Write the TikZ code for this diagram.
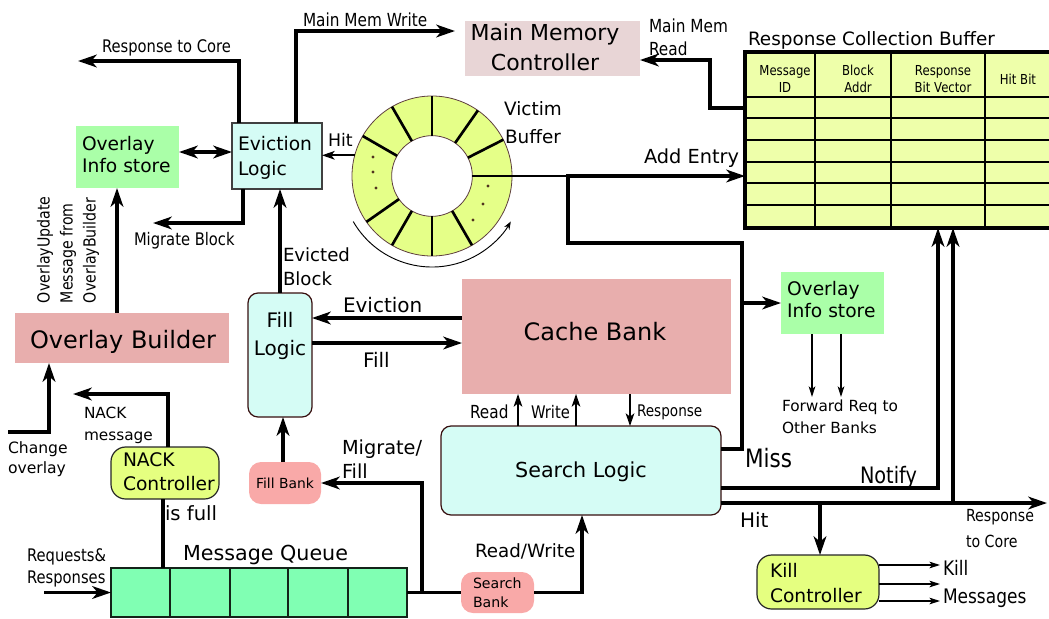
\documentclass[tikz,border=0pt]{standalone}
\usepackage{fontspec}
\setmainfont{DejaVu Sans}
\newfontfamily\condfont[FakeStretch=0.85]{DejaVu Sans}
\usetikzlibrary{arrows.meta,fit}

\definecolor{cyanbox}{RGB}{213,252,245}
\definecolor{greenbox}{RGB}{170,255,168}
\definecolor{pinkbox}{RGB}{232,174,173}
\definecolor{memcol}{RGB}{232,213,214}
\definecolor{bankcol}{RGB}{249,169,168}
\definecolor{limecol}{RGB}{229,255,128}
\definecolor{ringcol}{RGB}{229,255,136}
\definecolor{tablecol}{RGB}{238,255,170}
\definecolor{queuecol}{RGB}{128,255,179}
\definecolor{edgecol}{RGB}{55,15,15}
\definecolor{dotcol}{RGB}{80,50,30}
\definecolor{qedge}{RGB}{20,35,25}

\newcommand\fsz[2]{\fontsize{#1pt}{#2pt}\selectfont}

\begin{document}
\begin{tikzpicture}[x=0.75pt,y=-0.75pt,
  every node/.append style={inner sep=0pt, outer sep=0pt},
  region/.style={fit={#1}, inner sep=0pt, outer sep=0pt},
  lbl/.style={anchor=base west, align=left},
  ctr/.style={anchor=base, align=center},
  bigtip/.style={Stealth[length=14pt,width=9.5pt,inset=4pt]},
  thickline/.style={line width=2.3pt},
  arr/.style={line width=2.3pt, -{Stealth[length=14pt,width=9.5pt,inset=4pt]}},
  arrb/.style={line width=2.3pt, {Stealth[length=14pt,width=9.5pt,inset=4pt]}-{Stealth[length=14pt,width=9.5pt,inset=4pt]}},
  arrm/.style={line width=1.3pt, -{Stealth[length=9.5pt,width=6.5pt,inset=2.5pt]}},
  arrs/.style={line width=0.8pt, -{Stealth[length=8pt,width=5pt,inset=2pt]}},
  cyanframe/.style={fill=cyanbox, draw=edgecol, line width=0.9pt, rounded corners=7.5pt},
  limeframe/.style={fill=limecol, draw=black!85, line width=0.9pt, rounded corners=11pt}]
\useasboundingbox (0,0) rectangle (1049,618);

% ---------- blocks ----------
\node[region={(465,21) (640,76)}, fill=memcol] (mmc) {};
\node[ctr, font=\fsz{16.5}{22.5}] (mmctext) at (545,70) {Main Memory\\Controller};

\node[region={(232,123) (322,189)}, fill=cyanbox, draw=black!75, line width=1pt] (ev) {};
\node[lbl, font=\fsz{14}{18.5}] (evtext) at (238,175) {Eviction\\Logic};

\node[region={(76,126) (179,188)}, fill=greenbox] (oisa) {};
\node[lbl, font=\fsz{14}{16.5}] (oisatext) at (82,172) {Overlay\\Info store};

\node[region={(15,313) (229,363)}, fill=pinkbox] (ob) {};
\node[ctr, font=\fsz{18}{21}] (obtext) at (123,348) {Overlay Builder};

\node[region={(248,293) (312,417)}, cyanframe] (fl) {};
\node[ctr, font=\fsz{15}{21}] (fltext) at (280,355) {Fill\\Logic};

\node[region={(462,279) (731,394)}, fill=pinkbox] (cb) {};
\node[ctr, font=\fsz{18}{21}] (cbtext) at (595,340) {Cache Bank};

\node[region={(441,426) (721,515)}, cyanframe] (sl) {};
\node[ctr, font=\fsz{15.5}{18}] (sltext) at (581,477) {Search Logic};

\node[region={(461,572) (534,613)}, fill=bankcol, rounded corners=9pt] (sbank) {};
\node[lbl, font=\fsz{10.6}{14}] (sbanktext) at (473,607) {Search\\Bank};

\node[region={(249,462) (321,504)}, fill=bankcol, rounded corners=9pt] (fbank) {};
\node[ctr, font=\fsz{10.4}{13}] (fbanktext) at (285,488) {Fill Bank};

\node[region={(111,447) (219,499)}, limeframe] (nack) {};
\node[lbl, font=\fsz{14}{17.6}] (nacktext) at (123,490) {NACK\\Controller};

\node[region={(757,555) (879,609)}, limeframe] (kill) {};
\node[lbl, font=\fsz{14}{18.75}] (killtext) at (770,602) {Kill\\Controller};

\node[region={(781,272) (884,334)}, fill=greenbox] (oisb) {};
\node[lbl, font=\fsz{14}{16.5}] (oisbtext) at (787,317) {Overlay\\Info store};

% message queue cells
\foreach \i/\xa/\xb in {1/111/170,2/170/230,3/230/288,4/288/348,5/348/407}
  \node[region={(\xa,568) (\xb,617)}, fill=queuecol, draw=qedge, line width=1.8pt] (mq\i) {};
\node[lbl, font=\fsz{15.5}{18}] (mqtext) at (183,560) {Message Queue};

% victim buffer ring
\coordinate (ringc) at (432,176);
\node[circle, minimum size=120pt, fill=ringcol, draw=edgecol!80, line width=0.6pt] (ringout) at (ringc) {};
\node[circle, minimum size=60.5pt, fill=white, draw=edgecol!80, line width=0.6pt] (ringin) at (ringc) {};
\foreach \a in {0,27,55,90,120,150,215,240,270,300}
  \draw[line width=2pt] (ringin.\a) -- (ringout.\a);
\foreach \p in {(373,157),(373,172),(376,188),(488,186),(483,204),(473,220)}
  \fill[dotcol] \p circle[radius=1.3pt];
\draw[line width=0.7pt, -{Stealth[length=6pt,width=4.5pt]}] (ringc) ++(210:68.25pt) arc[start angle=210, end angle=330, radius=68.25pt];
\node[ctr, font=\fsz{13.8}{21}] (vbtext) at (533,143) {Victim\\Buffer};

% response collection buffer table
\node[region={(745,52) (1056,228)}, fill=tablecol] (rcb) {};
\foreach \yy in {97,118,140,162,183,205}
  \draw[line width=1pt] (rcb.west |- 0,\yy) -- (1056,\yy);
\foreach \xx in {815,891,985}
  \draw[line width=1pt] (\xx,0 |- rcb.north) -- (\xx,0 |- rcb.south);
\draw[line width=2.3pt] (rcb.north east) -- (rcb.north west) -- (rcb.south west) -- (rcb.south east);
\node[ctr, font=\condfont\fsz{10.3}{12.75}] (hmid) at (785,92) {Message\\ID};
\node[ctr, font=\condfont\fsz{10.3}{12.75}] (hblk) at (858,92) {Block\\Addr};
\node[ctr, font=\condfont\fsz{10.3}{12.75}] (hvec) at (943,92) {Response\\Bit Vector};
\node[ctr, font=\condfont\fsz{10.3}{12.75}] (hhit) at (1018,84) {Hit Bit};
\node[lbl, font=\fsz{13.8}{16}] (rcbtext) at (748,45) {Response Collection Buffer};

% ---------- connectors ----------
\draw[arrb] (oisa.east |- 0,152) -- (ev.west |- 0,152);
\draw[arr] (ev.north -| 239,0) |- (78,61);
\draw[arr, shorten >=7.5pt] (ev.north -| 296,0) |- (mmc.west |- 0,31);
\draw[arr] (ev.south -| 243,0) |- (153,223);
\draw[arr] (fl.north -| 280,0) -- (ev.south -| 280,0);
\draw[arrm] (ringout.165) -- (ev.east |- ringout.165);
\draw[line width=1pt] (ringout.east) -- (568,176);
\draw[arr] (sl.east |- 0,449) -- (742,449) -- (742,243) -- (568,243) -- (568,176) -- (rcb.west |- ringc);
\draw[arr] (742,0 |- oisb.west) -- (oisb.west);
\draw[arrs] (oisb.south -| 812,0) -- (812,397);
\draw[arrs] (oisb.south -| 841,0) -- (841,397);
\draw[arr] (rcb.west |- 0,108) -| (710,60) -- (mmc.east |- 0,60);
\draw[arr] (cb.west |- 0,318) -- (fl.east |- 0,318);
\draw[arr] (fl.east |- 0,343) -- (cb.west |- 0,343);
\draw[arrm] (sl.north -| 518,0) -- (cb.south -| 518,0);
\draw[arrm] (sl.north -| 576,0) -- (cb.south -| 576,0);
\draw[arrm] (cb.south -| 630,0) -- (sl.north -| 630,0);
\draw[arr] (sbank.east) -| (sl.south -| 582,0);
\draw[thickline] (mq5.east) -- (sbank.west);
\draw[arr] (mq5.east -| 422,0) |- (fbank.east);
\draw[arr] (fbank.north -| 283,0) -- (fl.south -| 283,0);
\draw[arr] (ob.north -| 117,0) -- (oisa.south -| 117,0);
\draw[arr] (8,432) -| (ob.south -| 49,0);
\draw[arr] (nack.north -| 168,0) |- (73,394);
\draw[thickline] (mq1.north -| 163,0) -- (nack.south -| 163,0);
\draw[arr] (44,0 |- mq1.west) -- (mq1.west);
\draw[arr] (sl.east |- 0,488) -| (rcb.south -| 938,0);
\draw[arr] (sl.east |- 0,503) -- (1047,503);
\draw[arr] (953,503) -- (rcb.south -| 953,0);
\draw[arr] (820,503) -- (kill.north -| 820,0);
\foreach \yy in {565,584,601}
  \draw[arrs] (kill.east |- 0,\yy) -- (940,\yy);

% ---------- labels ----------
\node[lbl, font=\condfont\fsz{13}{15}] (lrc) at (102,52) {Response to Core};
\node[lbl, font=\condfont\fsz{13.5}{16}] (lmw) at (303,26) {Main Mem Write};
\node[lbl, font=\condfont\fsz{13}{15}] (lmb) at (134,245) {Migrate Block};
\node[lbl, font=\fsz{13}{15}] (lhit) at (328,146) {Hit};
\node[lbl, font=\fsz{13.6}{18}] (leb) at (283,285) {Evicted\\Block};
\node[lbl, font=\fsz{14.5}{17}] (lae) at (644,163) {Add Entry};
\node[lbl, font=\condfont\fsz{13.5}{17}] (lmr) at (649,55) {Main Mem\\Read};
\node[lbl, font=\fsz{15}{17}] (lev) at (343,312) {Eviction};
\node[lbl, font=\fsz{15}{17}] (lfill) at (363,367) {Fill};
\node[lbl, font=\condfont\fsz{13.5}{16}] (lread) at (470,418) {Read};
\node[lbl, font=\condfont\fsz{13}{16}] (lwrite) at (531,418) {Write};
\node[lbl, font=\condfont\fsz{12}{14}] (lresp) at (637,416) {Response};
\node[lbl, font=\fsz{13.7}{16}] (lrw) at (475,557) {Read/Write};
\node[lbl, font=\fsz{14.5}{18}] (lmf) at (342,478) {Migrate/\\Fill};
\node[lbl, font=\fsz{11.5}{16.5}] (lnm) at (84,440) {NACK\\message};
\node[lbl, font=\fsz{11.7}{15}] (lco) at (8,473) {Change\\overlay};
\node[lbl, font=\fsz{14.7}{17}] (lif) at (165,520) {is full};
\node[lbl, font=\condfont\fsz{13}{16}] (lrr) at (27,583) {Requests\&\\Responses};
\node[lbl, font=\condfont\fsz{19}{22}] (lmiss) at (745,467) {Miss};
\node[lbl, font=\condfont\fsz{17}{20}] (lnot) at (860,483) {Notify};
\node[lbl, font=\fsz{15}{17}] (lhit2) at (740,527) {Hit};
\node[lbl, font=\condfont\fsz{12.5}{19}] (lrc2) at (966,547) {Response\\to Core};
\node[lbl, font=\condfont\fsz{15}{17}] (lkill) at (943,575) {Kill};
\node[lbl, font=\condfont\fsz{15}{17}] (lmsg) at (943,603) {Messages};
\node[lbl, font=\fsz{11.5}{16}] (lfwd) at (782,433) {Forward Req to\\Other Banks};
\node[rotate=90, anchor=west, align=left, font=\condfont\fsz{12.5}{17.25}] (lou) at (68,303) {OverlayUpdate\\Message from\\OverlayBuilder};
\end{tikzpicture}
\end{document}
